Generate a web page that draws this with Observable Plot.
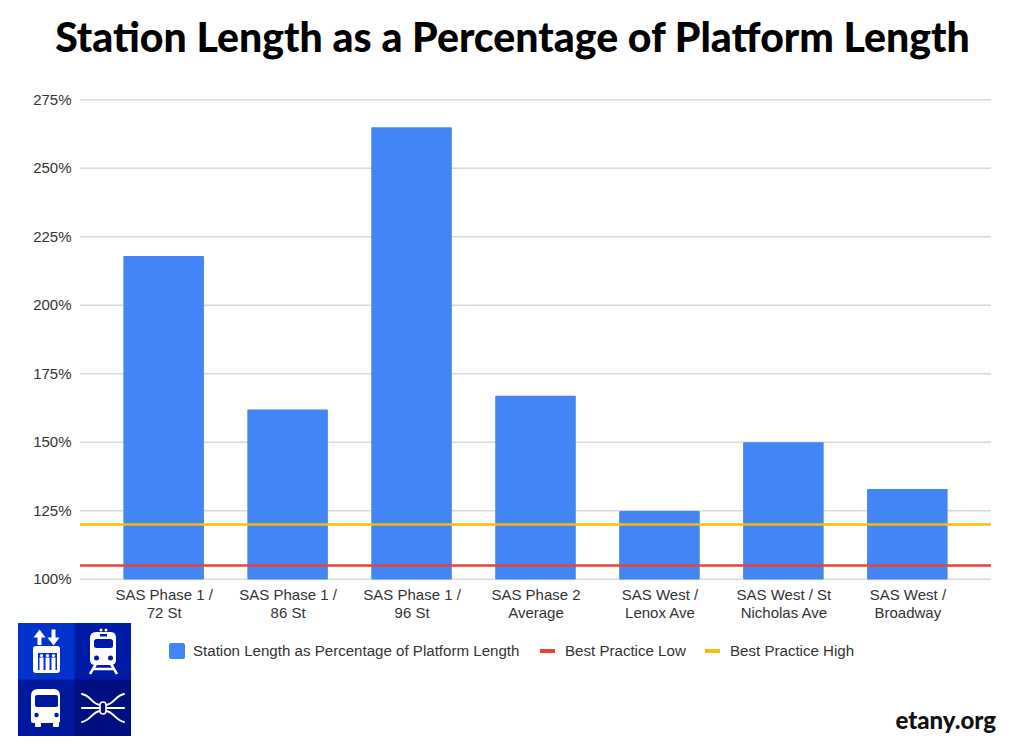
<!DOCTYPE html>
<html>
<head>
<meta charset="utf-8">
<script src="https://cdn.jsdelivr.net/npm/d3@7"></script>
<script src="https://cdn.jsdelivr.net/npm/@observablehq/plot@0.6"></script>
<style>
html,body{margin:0;padding:0;background:#fff;}
#page{position:relative;width:1023px;height:751px;overflow:hidden;font-family:"Liberation Sans",Arial,sans-serif;}
#title{position:absolute;left:0;top:8px;width:1025px;text-align:center;font-family:"Lato",sans-serif;font-weight:900;font-size:41px;line-height:58px;color:#000;white-space:nowrap;margin:0;}
#chart{position:absolute;left:0;top:70px;}
#chart svg{display:block;}
.lg{position:absolute;top:643px;font-size:15.1px;line-height:16px;color:#333;white-space:nowrap;}
.sw{position:absolute;}
#brand{position:absolute;right:27px;top:703px;font-family:"Lato",sans-serif;font-weight:900;font-size:24px;line-height:34px;color:#111;}
#logo{position:absolute;left:18px;top:623px;}
</style>
</head>
<body>
<div id="page">
  <h1 id="title">Station Length as a Percentage of Platform Length</h1>
  <div id="chart"></div>
  <div class="sw" style="left:169px;top:643px;width:16px;height:16px;border-radius:2px;background:#4285f4"></div>
  <div class="lg" style="left:193px">Station Length as Percentage of Platform Length</div>
  <div class="sw" style="left:540px;top:649px;width:15px;height:4px;background:#ea4335"></div>
  <div class="lg" style="left:565px">Best Practice Low</div>
  <div class="sw" style="left:705px;top:649px;width:15px;height:4px;background:#fbbc04"></div>
  <div class="lg" style="left:730px">Best Practice High</div>
  <svg id="logo" width="113" height="113" viewBox="0 0 113 113" role="img" aria-label="etany logo">
    <rect x="0" y="0" width="57" height="57" fill="#0033cc"/>
    <rect x="56.5" y="0" width="56.5" height="57" fill="#001aa8"/>
    <rect x="0" y="56.5" width="57" height="56.5" fill="#00189c"/>
    <rect x="56.5" y="56.5" width="56.5" height="56.5" fill="#000f80"/>
    <g fill="#fff">
      <path d="M21.500 6.500L27.500 14.500H23.500V22H19.500V14.500H15.500z"/>
      <path d="M33.500 6.500H37.500V14.500H41.500L35.500 22.500L29.500 14.500H33.500z"/>
      <rect x="15" y="23" width="27" height="27" rx="3"/>
    </g>
    <rect x="20" y="30" width="19" height="17" fill="#0033cc"/>
    <g fill="#fff"><circle cx="23.500" cy="32.500" r="1.600"/><circle cx="29.500" cy="32.500" r="1.600"/><circle cx="35.500" cy="32.500" r="1.600"/>
      <rect x="21.500" y="34.500" width="4" height="12.500"/><rect x="27.500" y="34.500" width="4" height="12.500"/><rect x="33.500" y="34.500" width="4" height="12.500"/></g>
    <g fill="#fff">
      <circle cx="83" cy="7" r="1.500"/><circle cx="88" cy="7" r="1.500"/>
      <path d="M78 9h15q5 0 5 6v22q0 5-5 5H77q-5 0-5-5V15q0-6 6-6z"/>
    </g>
    <rect x="76" y="16" width="19" height="9" rx="2.500" fill="#001aa8"/>
    <rect x="82" y="11" width="7" height="2.500" fill="#001aa8"/>
    <circle cx="78.500" cy="35" r="2.500" fill="#001aa8"/><circle cx="92.500" cy="35" r="2.500" fill="#001aa8"/>
    <path d="M78 41L72 51M93 41L99 51M76 46H95" stroke="#fff" stroke-width="2.500" fill="none"/>
    <g fill="#fff">
      <path d="M20 66h16q6 0 6 7v25q0 2-2 2H15q-2 0-2-2V73q0-7 7-7z"/>
      <rect x="17" y="99" width="6" height="5" rx="1"/><rect x="35" y="99" width="6" height="5" rx="1"/>
    </g>
    <rect x="17" y="72" width="23" height="12" rx="2" fill="#00189c"/>
    <circle cx="18.500" cy="92" r="2.200" fill="#00189c"/><circle cx="38.500" cy="92" r="2.200" fill="#00189c"/>
    <g stroke="#fff" stroke-width="2" fill="none" stroke-linecap="round">
      <path d="M64 85H106"/>
      <path d="M64 71C73 73 74 81 82 82M106 71C97 73 96 81 88 82M64 99C73 97 74 89 82 88M106 99C97 97 96 89 88 88"/>
    </g>
    <rect x="82" y="79" width="6" height="12" rx="3" fill="#000f80" stroke="#fff" stroke-width="1.600"/>
  </svg>
  <div id="brand">etany.org</div>
</div>
<script>
const stationNames = [
  "SAS Phase 1 /\n72 St",
  "SAS Phase 1 /\n86 St",
  "SAS Phase 1 /\n96 St",
  "SAS Phase 2\nAverage",
  "SAS West /\nLenox Ave",
  "SAS West / St\nNicholas Ave",
  "SAS West /\nBroadway"
];
const stationPct = [218, 162, 265, 167, 125, 150, 133];
const bestPracticeLow = 105;
const bestPracticeHigh = 120;
const yTicks = [100, 125, 150, 175, 200, 225, 250, 275];

const rows = stationNames.map((name, i) => ({name, pct: stationPct[i]}));

const chart = Plot.plot({
  width: 1023,
  height: 580,
  marginTop: 29.2,
  marginBottom: 71.2,
  marginLeft: 80,
  marginRight: 32,
  style: {background: "transparent", fontFamily: '"Liberation Sans", Arial, sans-serif', fontSize: "15px", color: "#333"},
  x: {domain: stationNames, padding: 0.35, round: false, label: null},
  y: {domain: [100, 275], label: null},
  marks: [
    Plot.ruleY(yTicks, {stroke: "#d9d9d9", strokeWidth: 1.5}),
    Plot.barY(rows, {x: "name", y1: () => 100, y2: "pct", fill: "#4285f4", rx: 1, dy: 0.6}),
    Plot.ruleY([bestPracticeLow], {stroke: "#ea4335", strokeWidth: 2.500}),
    Plot.ruleY([bestPracticeHigh], {stroke: "#fbbc04", strokeWidth: 2.500}),
    Plot.axisY({ticks: yTicks, tickSize: 0, tickPadding: 9, tickFormat: d => d + "%", label: null, fill: "#333", fontSize: 15}),
    Plot.axisX({tickSize: 0, tickPadding: 8.5, label: null, fill: "#333", fontSize: 15, lineHeight: 1.16, textOverflow: null, lineWidth: Infinity})
  ]
});
document.getElementById("chart").appendChild(chart);
</script>
</body>
</html>
